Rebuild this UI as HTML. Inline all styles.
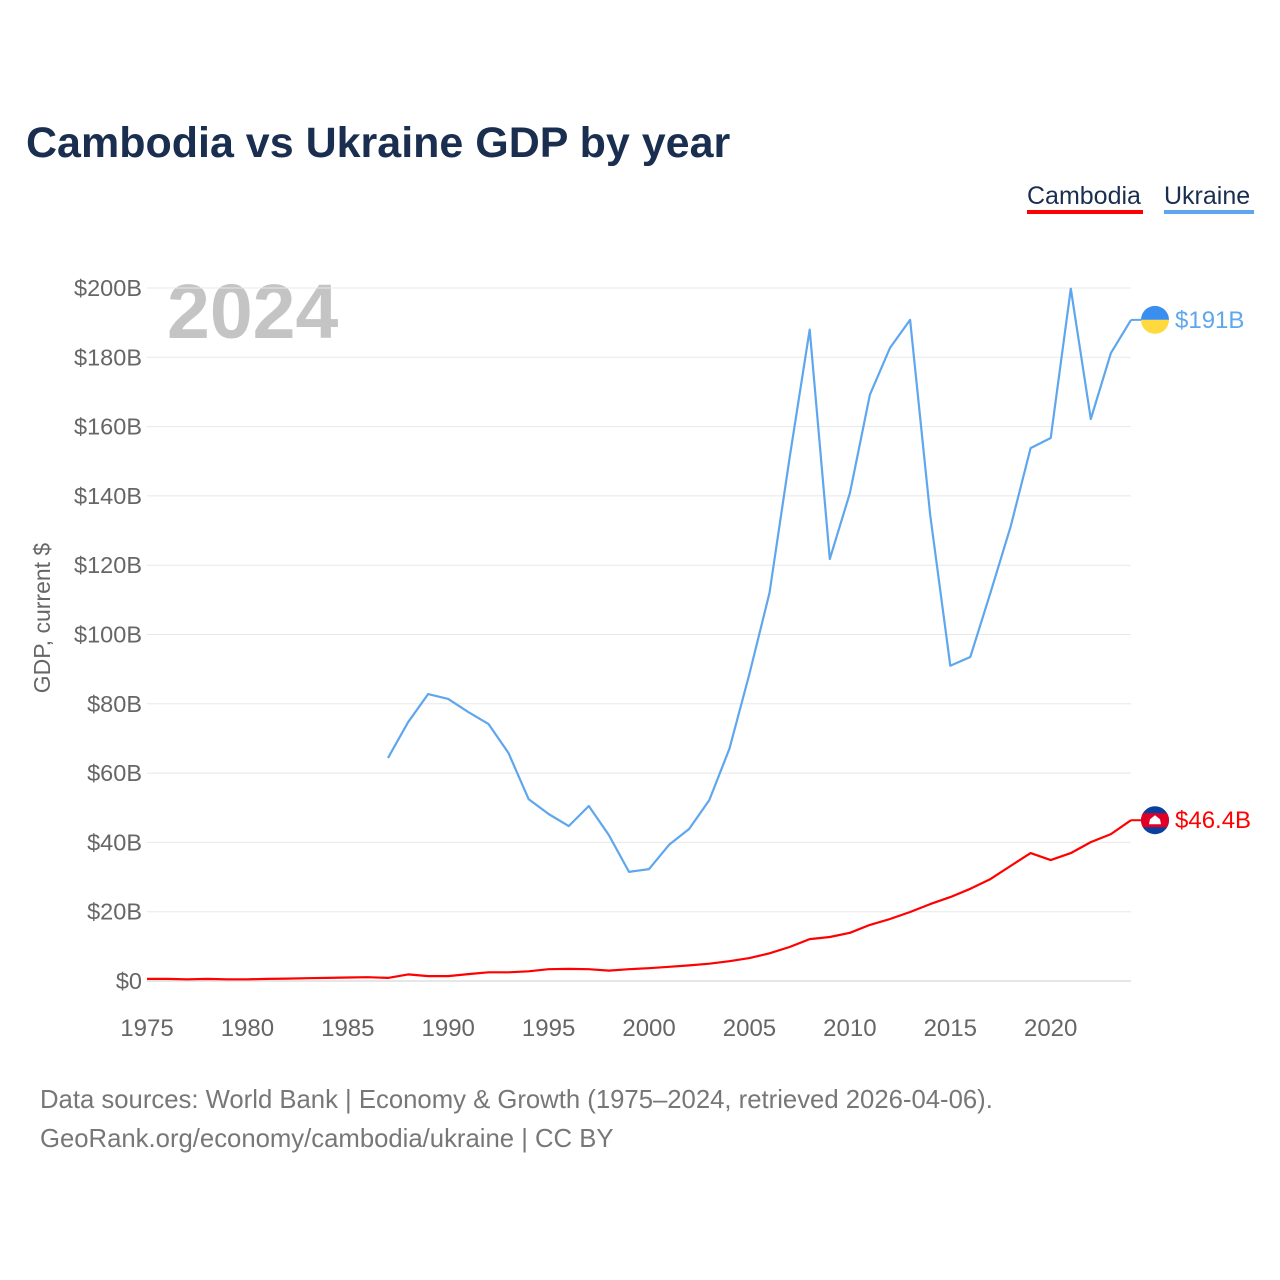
<!DOCTYPE html>
<html><head><meta charset="utf-8">
<style>
body{margin:0;background:#fff;font-family:"Liberation Sans",sans-serif;}
#wrap{position:relative;width:1280px;height:1280px;overflow:hidden;}
</style></head>
<body>
<div id="wrap">
<svg id="chart" width="1280" height="1280" xmlns="http://www.w3.org/2000/svg">
<text x="26" y="157" font-size="43" font-weight="bold" fill="#1a2e4f" font-family="Liberation Sans, sans-serif">Cambodia vs Ukraine GDP by year</text>
<g>
<text x="1027" y="204" font-size="25" fill="#1a2e4f">Cambodia</text>
<rect x="1027" y="210" width="116" height="4" fill="#ff0000"/>
</g>
<g>
<text x="1164" y="204" font-size="25" fill="#1a2e4f">Ukraine</text>
<rect x="1164" y="210" width="90" height="4" fill="#5ea6ee"/>
</g>
<text x="167" y="338" font-size="77" font-weight="bold" fill="#c4c4c4">2024</text>
<text transform="translate(50,618) rotate(-90)" text-anchor="middle" font-size="23" fill="#666">GDP, current $</text>
<g id="grid"></g><g id="yticks"></g><g id="xticks"></g><g id="lines"></g>
<text x="40" y="1108" font-size="25.7" fill="#777">Data sources: World Bank | Economy &amp; Growth (1975–2024, retrieved 2026-04-06).</text>
<text x="40" y="1147" font-size="25.7" fill="#777">GeoRank.org/economy/cambodia/ukraine | CC BY</text>
</svg>
</div>
<script>
const yTicks=[0,20,40,60,80,100,120,140,160,180,200];
const yTickLabels=["$0","$20B","$40B","$60B","$80B","$100B","$120B","$140B","$160B","$180B","$200B"];
const xTicks=[1975,1980,1985,1990,1995,2000,2005,2010,2015,2020];
const ukraineYears=[1987,1988,1989,1990,1991,1992,1993,1994,1995,1996,1997,1998,1999,2000,2001,2002,2003,2004,2005,2006,2007,2008,2009,2010,2011,2012,2013,2014,2015,2016,2017,2018,2019,2020,2021,2022,2023,2024];
const ukraineValues=[64.4,74.7,82.8,81.4,77.6,74.2,65.8,52.5,48.2,44.7,50.5,42.1,31.5,32.3,39.3,43.9,52.2,67.0,88.6,112,151,188,121.8,140.8,169.2,182.7,190.8,134.5,91,93.5,112,131,153.8,156.7,199.8,162.2,181.2,190.8];
const cambodiaYears=[1975,1976,1977,1978,1979,1980,1981,1982,1983,1984,1985,1986,1987,1988,1989,1990,1991,1992,1993,1994,1995,1996,1997,1998,1999,2000,2001,2002,2003,2004,2005,2006,2007,2008,2009,2010,2011,2012,2013,2014,2015,2016,2017,2018,2019,2020,2021,2022,2023,2024];
const cambodiaValues=[0.6,0.6,0.5,0.6,0.5,0.5,0.6,0.7,0.8,0.9,1.0,1.1,0.9,1.9,1.4,1.4,2.0,2.5,2.5,2.8,3.4,3.5,3.4,3.0,3.4,3.7,4.1,4.5,5.0,5.7,6.6,8.0,9.8,12.1,12.7,13.9,16.2,17.9,19.9,22.2,24.2,26.6,29.4,33.2,36.9,34.9,36.9,40.1,42.4,46.4];
const X0=147,X1=1131,Y0=981,Y1=288;
const xs=y=>X0+(y-1975)*(X1-X0)/(2024-1975);
const ys=v=>Y0-v*(Y0-Y1)/200;
const NS="http://www.w3.org/2000/svg";
function mk(tag,attrs,parent){const e=document.createElementNS(NS,tag);for(const k in attrs)e.setAttribute(k,attrs[k]);parent.appendChild(e);return e;}
const grid=document.getElementById('grid'),yt=document.getElementById('yticks'),xt=document.getElementById('xticks'),lines=document.getElementById('lines');
yTicks.forEach((v,i)=>{
 const l=mk('line',{x1:147,x2:1131,y1:ys(v),y2:ys(v),stroke:v===0?'#ccc':'#e8e8e8','stroke-width':1},grid);
 
 
 const t=mk('text',{x:142,y:ys(v)+8,'text-anchor':'end','font-size':23.5,fill:'#666'},yt);
 t.textContent=yTickLabels[i];
 
 
});
xTicks.forEach(v=>{
 const t=mk('text',{x:xs(v),y:1036,'text-anchor':'middle','font-size':24,fill:'#666'},xt);
 t.textContent=v;
 
 
});
function series(years,vals,color,name){
 const d=years.map((y,i)=>(i?'L':'M')+xs(y).toFixed(1)+','+ys(vals[i]).toFixed(1)).join(' ');
 const p=mk('path',{d:d,fill:'none',stroke:color,'stroke-width':2.2,'stroke-linejoin':'round'},lines);
 
 
 const ly=ys(vals[vals.length-1]);
 mk('line',{x1:xs(years[years.length-1]),x2:1142,y1:ly,y2:ly,stroke:color,'stroke-width':2},lines);
 return ly;
}
const uy=series(ukraineYears,ukraineValues,'#5ea6ee','ukraine');
const cy=series(cambodiaYears,cambodiaValues,'#ff0000','cambodia');
const uf=mk('g',{},lines);


mk('path',{d:`M1141,${uy} a14,14 0 0 1 28,0 z`,fill:'#3a8ef0'},uf);
mk('path',{d:`M1141,${uy} a14,14 0 0 0 28,0 z`,fill:'#ffd93d'},uf);
const cf=mk('g',{},lines);


mk('clipPath',{id:'cc'},cf);
mk('circle',{cx:1155,cy:cy,r:14},document.getElementById('cc'));
mk('circle',{cx:1155,cy:cy,r:14,fill:'#0b3f9e'},cf);
mk('rect',{x:1141,y:cy-7,width:28,height:14,fill:'#e00025','clip-path':'url(#cc)'},cf);
mk('path',{d:`M1149,${cy+4} L1150,${cy-1} L1155,${cy-5} L1160,${cy-1} L1161,${cy+4} z`,fill:'#fff'},cf);
const ul=mk('text',{x:1175,y:uy+8,'font-size':24,fill:'#5ea6ee'},lines);
ul.textContent='$191B';


const cl=mk('text',{x:1175,y:cy+8,'font-size':24,fill:'#ff0000'},lines);
cl.textContent='$46.4B';


</script>
</body></html>
